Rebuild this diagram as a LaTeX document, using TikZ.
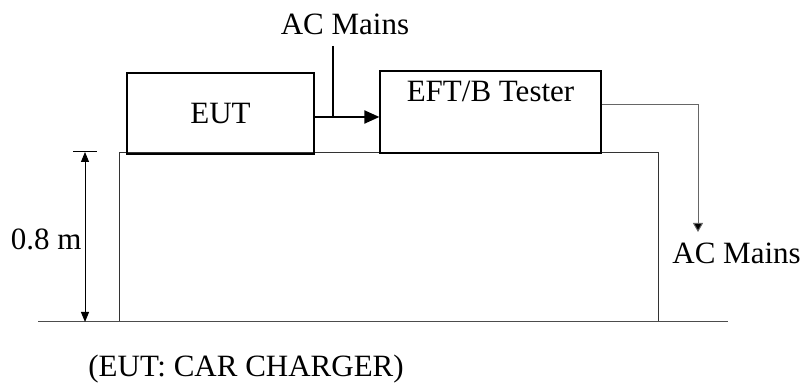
\documentclass[tikz,border=0pt]{standalone}
\usepackage{fontspec}
\setmainfont{Liberation Serif}
\usetikzlibrary{arrows.meta, positioning}

\begin{document}
\begin{tikzpicture}[
    x=0.5pt, y=-0.5pt,
    box/.style={rectangle, draw, line width=0.6pt, inner sep=0pt},
    lbl/.style={font=\fontsize{15.5}{18}\selectfont, inner sep=0pt},
    wire/.style={line width=0.5pt},
    arrow/.style={-{Triangle[length=7.5pt, width=6.5pt]}, line width=1pt},
    outarrow/.style={-{Triangle[length=4.5pt, width=5pt, fill=black]}, line width=0.5pt, draw=black!60},
    dim/.style={{Triangle[length=5pt, width=4pt]}-{Triangle[length=5pt, width=4pt]}, line width=0.5pt}
]
    \useasboundingbox (0,0) rectangle (803,383);

    % Table and ground
    \coordinate (tabletl) at (119,153);
    \coordinate (tabletr) at (658,153);
    \coordinate (groundl) at (38,322);
    \coordinate (groundr) at (728,322);
    \draw[wire, draw=black!80] (tabletl |- groundr) -- (tabletl) -- (tabletr) -- (tabletr |- groundr);
    \draw[wire, draw=black!70] (groundl) -- (groundr);

    % EUT
    \node[box, lbl, minimum width=93.5pt, minimum height=40.5pt] (eut) at (220.5,113.5) {EUT};

    % EFT/B tester
    \node[box, minimum width=110.5pt, minimum height=41pt] (tester) at (490.5,112) {};
    \node[lbl, below=5pt of tester.north] (testerlbl) {EFT/B Tester};

    % Mains in
    \node[lbl, anchor=base] (mainsin) at (345,35) {AC Mains};
    \coordinate (mainsdrop) at (333,46);
    \coordinate (feed) at ([yshift=-1.75pt]eut.east);
    \draw[arrow] (feed) -- (feed -| tester.west);
    \draw[line width=0.8pt] (mainsdrop) -- (mainsdrop |- feed);

    % Mains out
    \coordinate (outend) at (698,232);
    \node[lbl, anchor=base west] (mainsout) at (672,264) {AC Mains};
    \draw[outarrow] ([yshift=3.5pt]tester.east) -| (outend);

    % Height
    \coordinate (dimtop) at (85,152);
    \draw[wire] (73,152) -- (97,152);
    \draw[dim] (dimtop) -- (dimtop |- groundl);
    \node[lbl, anchor=base east] (height) at (82,250) {0.8 m};

    % Caption
    \node[lbl, anchor=base west] (caption) at (88,377) {(EUT: CAR CHARGER)};
\end{tikzpicture}
\end{document}
